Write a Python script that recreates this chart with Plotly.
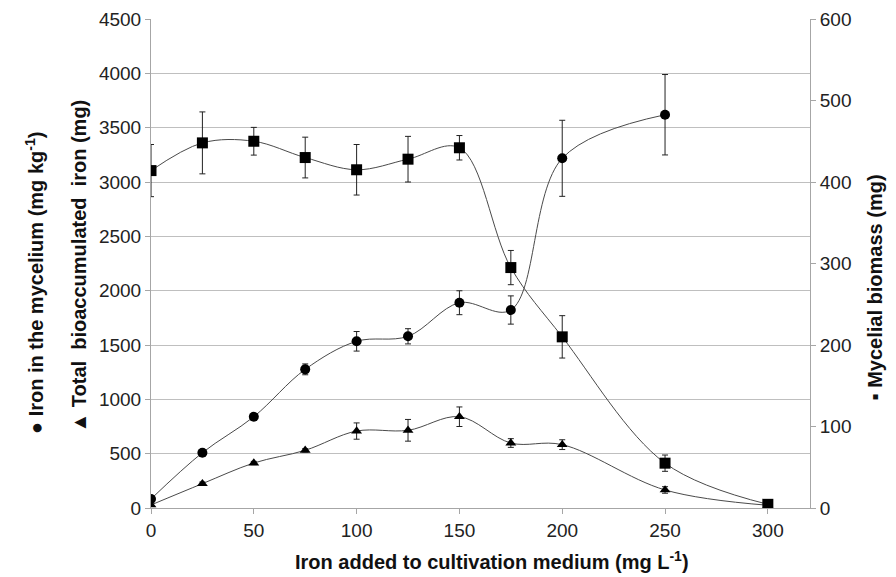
import plotly.graph_objects as go

iron_added = [0, 25, 50, 75, 100, 125, 150, 175, 200, 250, 300]

# Iron in the mycelium (mg kg-1) - left axis (circles)
myc_x = [0, 25, 50, 75, 100, 125, 150, 175, 200, 250]
myc_iron = [83, 509, 840, 1276, 1534, 1580, 1889, 1822, 3218, 3619]
myc_iron_err = [15, 25, 30, 50, 90, 70, 110, 130, 350, 370]

# Total bioaccumulated iron (mg) - left axis (triangles)
total_iron = [28, 224, 414, 531, 708, 715, 840, 598, 583, 166, 25]
total_iron_err = [10, 15, 15, 15, 75, 100, 90, 40, 45, 30, 8]

# Mycelial biomass (mg) - right axis (squares)
biomass = [414, 448, 450, 430, 415, 428, 442, 295, 210, 55, 4.5]
biomass_err = [32, 38, 17, 25, 31, 28, 15, 21, 26, 10, 2]

FONT = "Liberation Sans, Arial, sans-serif"
LINE = "#4a4a4a"

fig = go.Figure()

fig.add_trace(go.Scatter(
    x=iron_added, y=biomass, yaxis="y2", mode="lines+markers",
    line=dict(color=LINE, width=1, shape="spline", smoothing=1),
    marker=dict(symbol="square", size=11, color="black"),
    error_y=dict(type="data", array=biomass_err, color="#222", thickness=1, width=3),
    showlegend=False))

fig.add_trace(go.Scatter(
    x=myc_x, y=myc_iron, mode="lines+markers",
    line=dict(color=LINE, width=1, shape="spline", smoothing=1),
    marker=dict(symbol="circle", size=10, color="black"),
    error_y=dict(type="data", array=myc_iron_err, color="#222", thickness=1, width=3),
    showlegend=False))

fig.add_trace(go.Scatter(
    x=iron_added, y=total_iron, mode="lines+markers",
    line=dict(color=LINE, width=1, shape="spline", smoothing=1),
    marker=dict(symbol="triangle-up", size=9.5, color="black"),
    error_y=dict(type="data", array=total_iron_err, color="#222", thickness=1, width=3),
    showlegend=False))

TICKF = dict(family=FONT, size=19, color="#222")
fig.update_layout(
    width=888, height=569,
    margin=dict(l=143, r=86, t=11, b=69),
    paper_bgcolor="white", plot_bgcolor="white",
    font=dict(family=FONT, size=19, color="#222"),
    xaxis=dict(range=[0, 320.5], tickvals=[0, 50, 100, 150, 200, 250, 300],
               showgrid=False, zeroline=False, showline=True, linecolor="#a6a6a6",
               linewidth=1, ticks="outside", ticklen=5, tickcolor="#a6a6a6",
               tickfont=TICKF, automargin=False),
    yaxis=dict(range=[0, 4500], dtick=500, showgrid=True, gridcolor="#bfbfbf",
               gridwidth=1, zeroline=False, showline=True, linecolor="#a6a6a6",
               ticks="outside", ticklen=5, tickcolor="#a6a6a6",
               tickfont=TICKF, automargin=False),
    yaxis2=dict(range=[0, 600], dtick=100, overlaying="y", side="right",
                showgrid=False, zeroline=False, showline=True, linecolor="#a6a6a6",
                ticks="outside", ticklen=5, tickcolor="#a6a6a6",
                tickfont=TICKF, automargin=False),
)

title_font = dict(family=FONT, size=20, color="#111")
fig.add_annotation(text="<b>Iron added to cultivation medium (mg L<sup>-1</sup>)</b>",
                   xref="paper", yref="paper", x=0, xshift=341, y=0, yshift=-52,
                   showarrow=False, font=title_font, yanchor="middle", xanchor="center")
fig.add_annotation(text="<b>● Iron in the mycelium (mg kg<sup>-1</sup>)</b>",
                   xref="paper", yref="paper", x=0, xshift=-131, y=0.5, yshift=-20,
                   textangle=-90, showarrow=False, font=title_font)
fig.add_annotation(text="<b>▲ Total  bioaccumulated  iron (mg)</b>",
                   xref="paper", yref="paper", x=0, xshift=-86, y=0.5, yshift=-3,
                   textangle=-90, showarrow=False, font=title_font)
fig.add_annotation(text="<b>▪ Mycelial biomass (mg)</b>",
                   xref="paper", yref="paper", x=1, xshift=77, y=0.5, yshift=-24,
                   textangle=-90, showarrow=False, font=title_font)

fig.write_html("out.html")
